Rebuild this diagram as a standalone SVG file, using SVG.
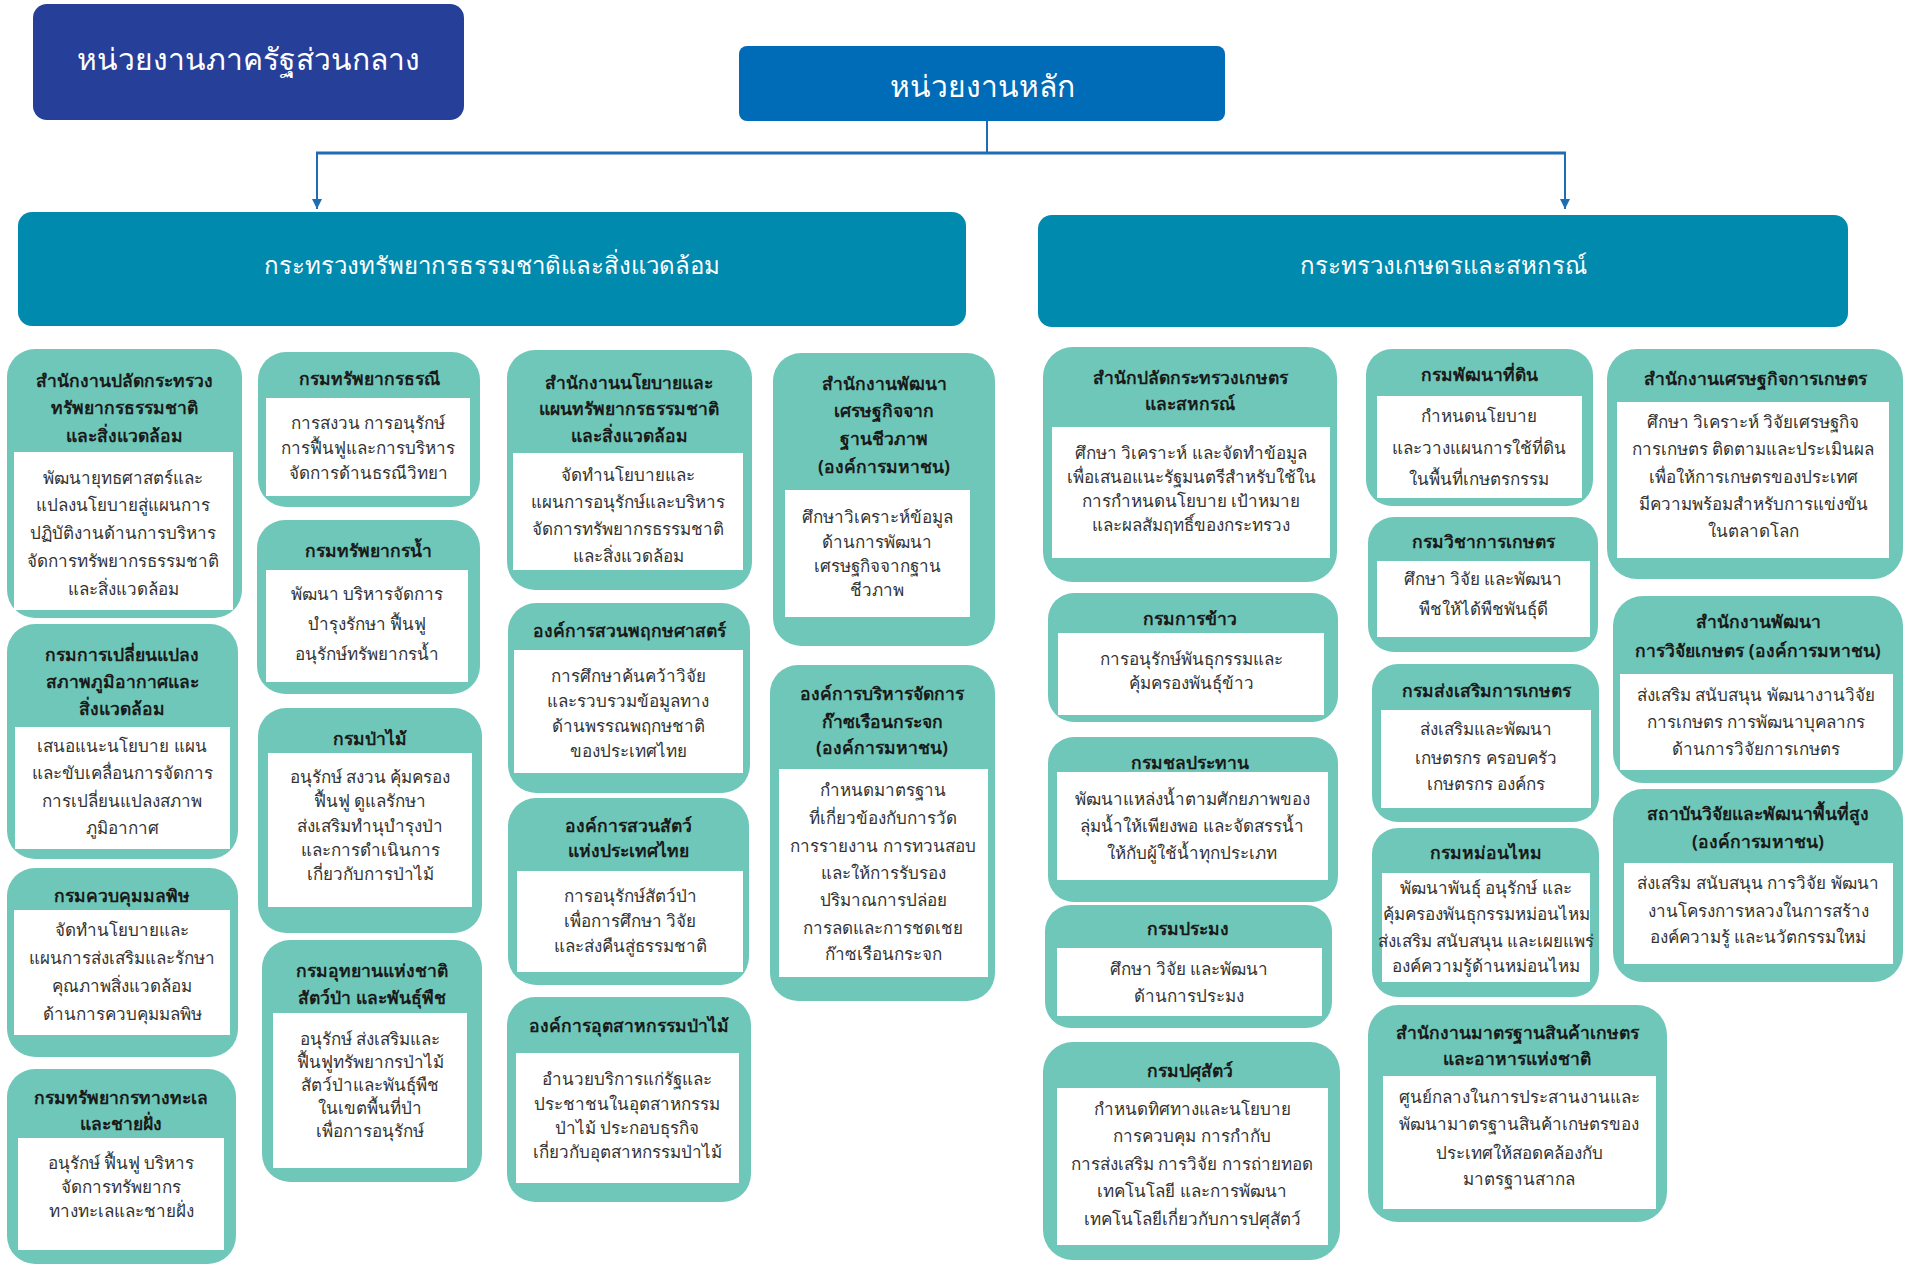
<svg xmlns="http://www.w3.org/2000/svg" width="1910" height="1266" viewBox="0 0 1910 1266">
<defs>
<marker id="arr" viewBox="0 0 10 10" refX="10" refY="5" markerWidth="10" markerHeight="14" markerUnits="userSpaceOnUse" orient="auto">
<path d="M0,0 L10,5 L0,10 z" fill="#1e6db4"/>
</marker>
</defs>
<style>
text{font-family:"Noto Sans","DejaVu Sans",sans-serif;text-anchor:middle;dominant-baseline:central}
.card{fill:#6ec7b8}
.inner{fill:#ffffff}
.t{font-size:17.5px;font-weight:bold;fill:#1a1a1a}
.b{font-size:17px;fill:#333333}
.hd{fill:#ffffff;font-size:30px}
.mn{fill:#ffffff;font-size:24px}
.ln{stroke:#1e6db4;fill:none}
</style>
<rect width="1910" height="1266" fill="#ffffff"/>

<g id="central">
<rect x="33" y="4" width="431" height="116" rx="14" fill="#26409a"/>
<text class="hd" x="248" y="58">หน่วยงานภาครัฐส่วนกลาง</text>
</g>
<g id="main">
<rect x="739" y="46" width="486" height="75" rx="8" fill="#006bb6"/>
<text class="hd" x="982" y="85">หน่วยงานหลัก</text>
</g>
<g id="connectors">
<path class="ln" stroke-width="2" d="M987,121 V152"/>
<path class="ln" stroke-width="3" d="M316,153 H1566"/>
<path class="ln" stroke-width="2" d="M317,153 V209" marker-end="url(#arr)"/>
<path class="ln" stroke-width="2" d="M1565,153 V209" marker-end="url(#arr)"/>
</g>
<g id="ministry-env">
<rect x="18" y="212" width="948" height="114" rx="14" fill="#008aae"/>
<text class="mn" x="492" y="264">กระทรวงทรัพยากรธรรมชาติและสิ่งแวดล้อม</text>
</g>
<g id="ministry-agri">
<rect x="1038" y="215" width="810" height="112" rx="14" fill="#008aae"/>
<text class="mn" x="1443" y="264">กระทรวงเกษตรและสหกรณ์</text>
</g>

<g id="n-a">
<rect class="card" x="7" y="349" width="235" height="269" rx="28"/>
<rect class="inner" x="14" y="452" width="219" height="158"/>
<text class="t" x="124"><tspan x="124" y="380">สำนักงานปลัดกระทรวง</tspan><tspan x="124" y="407">ทรัพยากรธรรมชาติ</tspan><tspan x="124" y="435">และสิ่งแวดล้อม</tspan></text>
<text class="b"><tspan x="123" y="477">พัฒนายุทธศาสตร์และ</tspan><tspan x="123" y="504">แปลงนโยบายสู่แผนการ</tspan><tspan x="123" y="532">ปฏิบัติงานด้านการบริหาร</tspan><tspan x="123" y="560">จัดการทรัพยากรธรรมชาติ</tspan><tspan x="123" y="588">และสิ่งแวดล้อม</tspan></text>
</g>
<g id="n-b">
<rect class="card" x="7" y="624" width="231" height="235" rx="28"/>
<rect class="inner" x="15" y="727" width="215" height="122"/>
<text class="t"><tspan x="122" y="654">กรมการเปลี่ยนแปลง</tspan><tspan x="122" y="681">สภาพภูมิอากาศและ</tspan><tspan x="122" y="708">สิ่งแวดล้อม</tspan></text>
<text class="b"><tspan x="122" y="745">เสนอแนะนโยบาย แผน</tspan><tspan x="122" y="772">และขับเคลื่อนการจัดการ</tspan><tspan x="122" y="800">การเปลี่ยนแปลงสภาพ</tspan><tspan x="122" y="827">ภูมิอากาศ</tspan></text>
</g>
<g id="n-c">
<rect class="card" x="7" y="868" width="231" height="189" rx="28"/>
<rect class="inner" x="14" y="910" width="216" height="125"/>
<text class="t" x="122" y="895">กรมควบคุมมลพิษ</text>
<text class="b"><tspan x="122" y="929">จัดทำนโยบายและ</tspan><tspan x="122" y="957">แผนการส่งเสริมและรักษา</tspan><tspan x="122" y="985">คุณภาพสิ่งแวดล้อม</tspan><tspan x="122" y="1013">ด้านการควบคุมมลพิษ</tspan></text>
</g>
<g id="n-d">
<rect class="card" x="7" y="1069" width="229" height="195" rx="28"/>
<rect class="inner" x="18" y="1138" width="206" height="112"/>
<text class="t"><tspan x="121" y="1097">กรมทรัพยากรทางทะเล</tspan><tspan x="121" y="1123">และชายฝั่ง</tspan></text>
<text class="b"><tspan x="121" y="1162">อนุรักษ์ ฟื้นฟู บริหาร</tspan><tspan x="121" y="1186">จัดการทรัพยากร</tspan><tspan x="121" y="1210">ทางทะเลและชายฝั่ง</tspan></text>
</g>

<g id="n-e">
<rect class="card" x="258" y="352" width="222" height="155" rx="28"/>
<rect class="inner" x="266" y="398" width="204" height="98"/>
<text class="t" x="369" y="378">กรมทรัพยากรธรณี</text>
<text class="b"><tspan x="368" y="422">การสงวน การอนุรักษ์</tspan><tspan x="368" y="447">การฟื้นฟูและการบริหาร</tspan><tspan x="368" y="472">จัดการด้านธรณีวิทยา</tspan></text>
</g>
<g id="n-f">
<rect class="card" x="257" y="520" width="223" height="174" rx="28"/>
<rect class="inner" x="266" y="570" width="202" height="112"/>
<text class="t" x="368" y="550">กรมทรัพยากรน้ำ</text>
<text class="b"><tspan x="367" y="593">พัฒนา บริหารจัดการ</tspan><tspan x="367" y="623">บำรุงรักษา ฟื้นฟู</tspan><tspan x="367" y="653">อนุรักษ์ทรัพยากรน้ำ</tspan></text>
</g>
<g id="n-g">
<rect class="card" x="258" y="708" width="224" height="225" rx="28"/>
<rect class="inner" x="268" y="753" width="204" height="154"/>
<text class="t" x="370" y="738">กรมป่าไม้</text>
<text class="b"><tspan x="370" y="776">อนุรักษ์ สงวน คุ้มครอง</tspan><tspan x="370" y="800">ฟื้นฟู ดูแลรักษา</tspan><tspan x="370" y="825">ส่งเสริมทำนุบำรุงป่า</tspan><tspan x="370" y="849">และการดำเนินการ</tspan><tspan x="370" y="873">เกี่ยวกับการป่าไม้</tspan></text>
</g>
<g id="n-h">
<rect class="card" x="262" y="940" width="220" height="242" rx="28"/>
<rect class="inner" x="273" y="1013" width="194" height="155"/>
<text class="t"><tspan x="372" y="970">กรมอุทยานแห่งชาติ</tspan><tspan x="372" y="997">สัตว์ป่า และพันธุ์พืช</tspan></text>
<text class="b"><tspan x="370" y="1038">อนุรักษ์ ส่งเสริมและ</tspan><tspan x="370" y="1061">ฟื้นฟูทรัพยากรป่าไม้</tspan><tspan x="370" y="1084">สัตว์ป่าและพันธุ์พืช</tspan><tspan x="370" y="1107">ในเขตพื้นที่ป่า</tspan><tspan x="370" y="1130">เพื่อการอนุรักษ์</tspan></text>
</g>

<g id="n-i">
<rect class="card" x="507" y="350" width="245" height="240" rx="28"/>
<rect class="inner" x="513" y="453" width="230" height="117"/>
<text class="t"><tspan x="629" y="382">สำนักงานนโยบายและ</tspan><tspan x="629" y="408">แผนทรัพยากรธรรมชาติ</tspan><tspan x="629" y="435">และสิ่งแวดล้อม</tspan></text>
<text class="b"><tspan x="628" y="474">จัดทำนโยบายและ</tspan><tspan x="628" y="501">แผนการอนุรักษ์และบริหาร</tspan><tspan x="628" y="528">จัดการทรัพยากรธรรมชาติ</tspan><tspan x="628" y="555">และสิ่งแวดล้อม</tspan></text>
</g>
<g id="n-j">
<rect class="card" x="508" y="603" width="242" height="190" rx="28"/>
<rect class="inner" x="514" y="650" width="229" height="123"/>
<text class="t" x="629" y="630">องค์การสวนพฤกษศาสตร์</text>
<text class="b"><tspan x="628" y="675">การศึกษาค้นคว้าวิจัย</tspan><tspan x="628" y="700">และรวบรวมข้อมูลทาง</tspan><tspan x="628" y="725">ด้านพรรณพฤกษชาติ</tspan><tspan x="628" y="750">ของประเทศไทย</tspan></text>
</g>
<g id="n-k">
<rect class="card" x="508" y="798" width="241" height="187" rx="28"/>
<rect class="inner" x="517" y="871" width="226" height="101"/>
<text class="t"><tspan x="628" y="825">องค์การสวนสัตว์</tspan><tspan x="628" y="850">แห่งประเทศไทย</tspan></text>
<text class="b"><tspan x="630" y="895">การอนุรักษ์สัตว์ป่า</tspan><tspan x="630" y="920">เพื่อการศึกษา วิจัย</tspan><tspan x="630" y="945">และส่งคืนสู่ธรรมชาติ</tspan></text>
</g>
<g id="n-l">
<rect class="card" x="507" y="997" width="244" height="205" rx="28"/>
<rect class="inner" x="516" y="1053" width="223" height="130"/>
<text class="t" x="629" y="1025">องค์การอุตสาหกรรมป่าไม้</text>
<text class="b"><tspan x="627" y="1078">อำนวยบริการแก่รัฐและ</tspan><tspan x="627" y="1103">ประชาชนในอุตสาหกรรม</tspan><tspan x="627" y="1127">ป่าไม้ ประกอบธุรกิจ</tspan><tspan x="627" y="1151">เกี่ยวกับอุตสาหกรรมป่าไม้</tspan></text>
</g>

<g id="n-m">
<rect class="card" x="773" y="353" width="222" height="293" rx="28"/>
<rect class="inner" x="785" y="490" width="185" height="127"/>
<text class="t"><tspan x="884" y="383">สำนักงานพัฒนา</tspan><tspan x="884" y="410">เศรษฐกิจจาก</tspan><tspan x="884" y="438">ฐานชีวภาพ</tspan><tspan x="884" y="466">(องค์การมหาชน)</tspan></text>
<text class="b"><tspan x="877" y="516">ศึกษาวิเคราะห์ข้อมูล</tspan><tspan x="877" y="541">ด้านการพัฒนา</tspan><tspan x="877" y="565">เศรษฐกิจจากฐาน</tspan><tspan x="877" y="589">ชีวภาพ</tspan></text>
</g>
<g id="n-n">
<rect class="card" x="770" y="665" width="225" height="336" rx="28"/>
<rect class="inner" x="779" y="769" width="209" height="208"/>
<text class="t"><tspan x="882" y="693">องค์การบริหารจัดการ</tspan><tspan x="882" y="721">ก๊าซเรือนกระจก</tspan><tspan x="882" y="747">(องค์การมหาชน)</tspan></text>
<text class="b"><tspan x="883" y="789">กำหนดมาตรฐาน</tspan><tspan x="883" y="817">ที่เกี่ยวข้องกับการวัด</tspan><tspan x="883" y="845">การรายงาน การทวนสอบ</tspan><tspan x="883" y="872">และให้การรับรอง</tspan><tspan x="883" y="899">ปริมาณการปล่อย</tspan><tspan x="883" y="927">การลดและการชดเชย</tspan><tspan x="883" y="953">ก๊าซเรือนกระจก</tspan></text>
</g>

<g id="n-o">
<rect class="card" x="1043" y="347" width="294" height="235" rx="30"/>
<rect class="inner" x="1052" y="427" width="278" height="131"/>
<text class="t"><tspan x="1190" y="377">สำนักปลัดกระทรวงเกษตร</tspan><tspan x="1190" y="403">และสหกรณ์</tspan></text>
<text class="b"><tspan x="1191" y="452">ศึกษา วิเคราะห์ และจัดทำข้อมูล</tspan><tspan x="1191" y="476">เพื่อเสนอแนะรัฐมนตรีสำหรับใช้ใน</tspan><tspan x="1191" y="500">การกำหนดนโยบาย เป้าหมาย</tspan><tspan x="1191" y="524">และผลสัมฤทธิ์ของกระทรวง</tspan></text>
</g>
<g id="n-p">
<rect class="card" x="1048" y="593" width="290" height="129" rx="26"/>
<rect class="inner" x="1058" y="633" width="266" height="82"/>
<text class="t" x="1190" y="618">กรมการข้าว</text>
<text class="b"><tspan x="1191" y="658">การอนุรักษ์พันธุกรรมและ</tspan><tspan x="1191" y="682">คุ้มครองพันธุ์ข้าว</tspan></text>
</g>
<g id="n-q">
<rect class="card" x="1048" y="737" width="290" height="165" rx="26"/>
<rect class="inner" x="1057" y="772" width="271" height="108"/>
<text class="t" x="1190" y="762">กรมชลประทาน</text>
<text class="b"><tspan x="1192" y="798">พัฒนาแหล่งน้ำตามศักยภาพของ</tspan><tspan x="1192" y="825">ลุ่มน้ำให้เพียงพอ และจัดสรรน้ำ</tspan><tspan x="1192" y="852">ให้กับผู้ใช้น้ำทุกประเภท</tspan></text>
</g>
<g id="n-r">
<rect class="card" x="1045" y="905" width="287" height="123" rx="26"/>
<rect class="inner" x="1057" y="948" width="265" height="68"/>
<text class="t" x="1188" y="928">กรมประมง</text>
<text class="b"><tspan x="1189" y="968">ศึกษา วิจัย และพัฒนา</tspan><tspan x="1189" y="995">ด้านการประมง</tspan></text>
</g>
<g id="n-s">
<rect class="card" x="1043" y="1042" width="297" height="218" rx="30"/>
<rect class="inner" x="1057" y="1088" width="271" height="157"/>
<text class="t" x="1190" y="1070">กรมปศุสัตว์</text>
<text class="b"><tspan x="1192" y="1108">กำหนดทิศทางและนโยบาย</tspan><tspan x="1192" y="1135">การควบคุม การกำกับ</tspan><tspan x="1192" y="1163">การส่งเสริม การวิจัย การถ่ายทอด</tspan><tspan x="1192" y="1190">เทคโนโลยี และการพัฒนา</tspan><tspan x="1192" y="1218">เทคโนโลยีเกี่ยวกับการปศุสัตว์</tspan></text>
</g>

<g id="n-t">
<rect class="card" x="1366" y="349" width="227" height="157" rx="26"/>
<rect class="inner" x="1377" y="396" width="205" height="102"/>
<text class="t" x="1479" y="374">กรมพัฒนาที่ดิน</text>
<text class="b"><tspan x="1479" y="415">กำหนดนโยบาย</tspan><tspan x="1479" y="447">และวางแผนการใช้ที่ดิน</tspan><tspan x="1479" y="478">ในพื้นที่เกษตรกรรม</tspan></text>
</g>
<g id="n-u">
<rect class="card" x="1368" y="517" width="230" height="135" rx="26"/>
<rect class="inner" x="1377" y="561" width="213" height="76"/>
<text class="t" x="1483" y="541">กรมวิชาการเกษตร</text>
<text class="b"><tspan x="1483" y="578">ศึกษา วิจัย และพัฒนา</tspan><tspan x="1483" y="608">พืชให้ได้พืชพันธุ์ดี</tspan></text>
</g>
<g id="n-v">
<rect class="card" x="1372" y="664" width="227" height="158" rx="26"/>
<rect class="inner" x="1381" y="710" width="210" height="98"/>
<text class="t" x="1486" y="690">กรมส่งเสริมการเกษตร</text>
<text class="b"><tspan x="1486" y="728">ส่งเสริมและพัฒนา</tspan><tspan x="1486" y="757">เกษตรกร ครอบครัว</tspan><tspan x="1486" y="783">เกษตรกร องค์กร</tspan></text>
</g>
<g id="n-w">
<rect class="card" x="1372" y="828" width="227" height="169" rx="26"/>
<rect class="inner" x="1382" y="873" width="208" height="109"/>
<text class="t" x="1486" y="852">กรมหม่อนไหม</text>
<text class="b"><tspan x="1486" y="887">พัฒนาพันธุ์ อนุรักษ์ และ</tspan><tspan x="1486" y="913">คุ้มครองพันธุกรรมหม่อนไหม</tspan><tspan x="1486" y="940">ส่งเสริม สนับสนุน และเผยแพร่</tspan><tspan x="1486" y="965">องค์ความรู้ด้านหม่อนไหม</tspan></text>
</g>
<g id="n-x">
<rect class="card" x="1368" y="1005" width="299" height="217" rx="30"/>
<rect class="inner" x="1383" y="1076" width="273" height="133"/>
<text class="t"><tspan x="1517" y="1032">สำนักงานมาตรฐานสินค้าเกษตร</tspan><tspan x="1517" y="1058">และอาหารแห่งชาติ</tspan></text>
<text class="b"><tspan x="1519" y="1096">ศูนย์กลางในการประสานงานและ</tspan><tspan x="1519" y="1123">พัฒนามาตรฐานสินค้าเกษตรของ</tspan><tspan x="1519" y="1152">ประเทศให้สอดคล้องกับ</tspan><tspan x="1519" y="1178">มาตรฐานสากล</tspan></text>
</g>

<g id="n-y">
<rect class="card" x="1607" y="349" width="296" height="230" rx="30"/>
<rect class="inner" x="1617" y="402" width="272" height="156"/>
<text class="t" x="1755" y="378">สำนักงานเศรษฐกิจการเกษตร</text>
<text class="b"><tspan x="1753" y="421">ศึกษา วิเคราะห์ วิจัยเศรษฐกิจ</tspan><tspan x="1753" y="448">การเกษตร ติดตามและประเมินผล</tspan><tspan x="1753" y="476">เพื่อให้การเกษตรของประเทศ</tspan><tspan x="1753" y="503">มีความพร้อมสำหรับการแข่งขัน</tspan><tspan x="1753" y="530">ในตลาดโลก</tspan></text>
</g>
<g id="n-z">
<rect class="card" x="1613" y="596" width="290" height="187" rx="30"/>
<rect class="inner" x="1620" y="674" width="273" height="96"/>
<text class="t"><tspan x="1758" y="621">สำนักงานพัฒนา</tspan><tspan x="1758" y="650">การวิจัยเกษตร (องค์การมหาชน)</tspan></text>
<text class="b"><tspan x="1756" y="694">ส่งเสริม สนับสนุน พัฒนางานวิจัย</tspan><tspan x="1756" y="721">การเกษตร การพัฒนาบุคลากร</tspan><tspan x="1756" y="748">ด้านการวิจัยการเกษตร</tspan></text>
</g>
<g id="n-aa">
<rect class="card" x="1613" y="789" width="290" height="193" rx="30"/>
<rect class="inner" x="1624" y="863" width="269" height="101"/>
<text class="t"><tspan x="1758" y="813">สถาบันวิจัยและพัฒนาพื้นที่สูง</tspan><tspan x="1758" y="841">(องค์การมหาชน)</tspan></text>
<text class="b"><tspan x="1758" y="882">ส่งเสริม สนับสนุน การวิจัย พัฒนา</tspan><tspan x="1758" y="910">งานโครงการหลวงในการสร้าง</tspan><tspan x="1758" y="936">องค์ความรู้ และนวัตกรรมใหม่</tspan></text>
</g>
</svg>
